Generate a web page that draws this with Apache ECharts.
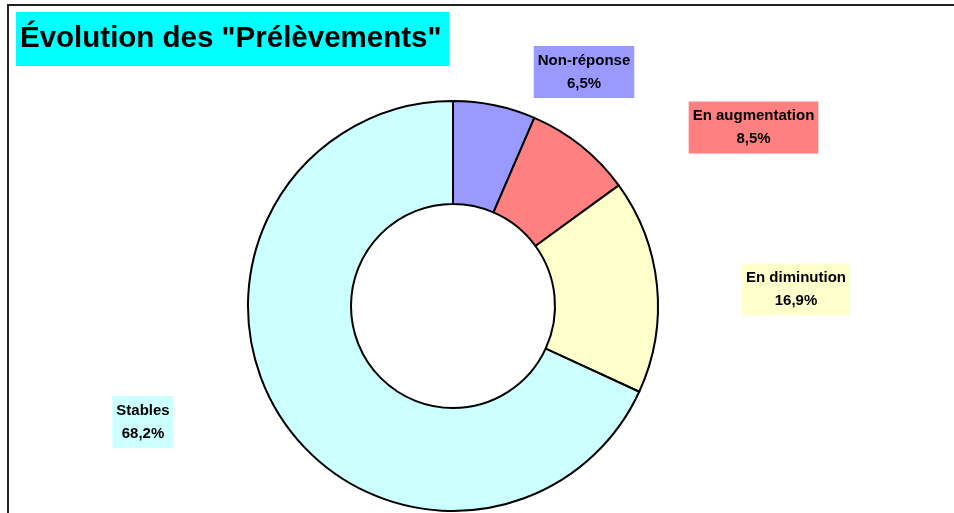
<!DOCTYPE html>
<html>
<head>
<meta charset="utf-8">
<script src="https://cdn.jsdelivr.net/npm/echarts@6/dist/echarts.min.js"></script>
<style>
html,body{margin:0;padding:0;background:#fff;}
#chart{width:954px;height:513px;}
</style>
</head>
<body>
<div id="chart"></div>
<script>
const titleText = 'Évolution des "Prélèvements"';
const categories = ['Non-réponse', 'En augmentation', 'En diminution', 'Stables'];
const values = [6.5, 8.5, 16.9, 68.2];
const colors = ['#9999FF', '#FF8080', '#FFFFCC', '#CCFFFF'];

// label anchor centers (pixel layout, not data)
const labelCenters = [[584, 72], [753.5, 127.5], [796, 289.5], [143, 422]];

const chart = echarts.init(document.getElementById('chart'), null, {renderer: 'canvas'});

const option = {
  backgroundColor: '#ffffff',
  animation: false,
  title: {
    text: titleText,
    left: 16,
    top: 12,
    backgroundColor: '#00FFFF',
    padding: [10, 8, 10, 4],
    textStyle: {
      fontFamily: 'Liberation Sans, Arial, sans-serif',
      fontWeight: 'bold',
      fontSize: 29.5,
      lineHeight: 34,
      color: '#000'
    }
  },
  graphic: [{
    type: 'rect',
    silent: true,
    z: 100,
    shape: {x: 8, y: 5, width: 1000, height: 600},
    style: {fill: 'none', stroke: '#222', lineWidth: 2}
  }],
  series: [{
    type: 'pie',
    center: [453, 306],
    radius: [102, 205],
    startAngle: 90,
    clockwise: true,
    avoidLabelOverlap: false,
    itemStyle: {borderColor: '#000', borderWidth: 2},
    labelLine: {show: false},
    label: {
      show: true,
      position: 'outside',
      fontFamily: 'Liberation Sans, Arial, sans-serif',
      fontWeight: 'bold',
      fontSize: 15,
      lineHeight: 23,
      color: '#000',
      align: 'center',
      formatter: function (p) {
        return p.name + '\n' + p.value.toFixed(1).replace('.', ',') + '%';
      }
    },
    labelLayout: function (params) {
      const c = labelCenters[params.dataIndex];
      return {x: c[0], y: c[1], align: 'center', verticalAlign: 'middle'};
    },
    data: categories.map(function (name, i) {
      return {
        name: name,
        value: values[i],
        itemStyle: {color: colors[i]},
        label: {backgroundColor: colors[i], padding: [3, 4, 3, 4]}
      };
    })
  }]
};
chart.setOption(option);
</script>
</body>
</html>
